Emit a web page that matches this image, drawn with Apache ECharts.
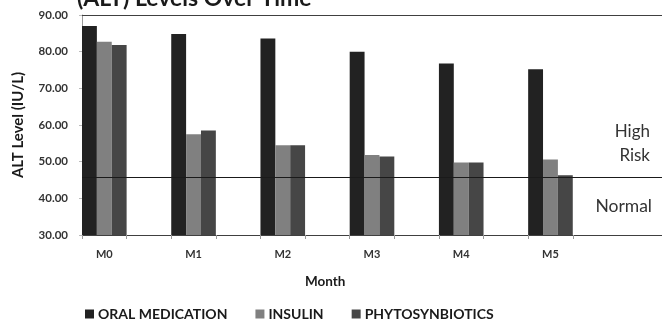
<!DOCTYPE html>
<html>
<head>
<meta charset="utf-8">
<script src="https://cdn.jsdelivr.net/npm/echarts@6/dist/echarts.min.js"></script>
<style>html,body{margin:0;padding:0;background:#fff}#c{width:662px;height:324px}</style>
</head>
<body>
<div id="c"></div>
<script>
const months = ['M0', 'M1', 'M2', 'M3', 'M4', 'M5'];
const oralMedication = [87.0, 84.8, 83.6, 80.0, 76.8, 75.2];
const insulin = [82.7, 57.5, 54.5, 51.8, 49.8, 50.6];
const phytosynbiotics = [81.8, 58.5, 54.5, 51.4, 49.8, 46.3];
const threshold = 45.7;
const yTicks = [30, 40, 50, 60, 70, 80, 90];

// each month occupies one slot of bars followed by an empty slot
const slots = [];
months.forEach(m => { slots.push(m); slots.push(''); });
slots.push('');
const spread = arr => {
  const out = [];
  arr.forEach(v => { out.push(v); out.push(null); });
  out.push(null);
  return out;
};

const FONT = 'Lato';
const chart = echarts.init(document.getElementById('c'), null, {renderer: 'canvas'});
chart.setOption({
  animation: false,
  textStyle: {fontFamily: FONT},
  title: [
    {text: '(ALT) Levels Over Time', left: 77, top: -13, padding: 0,
     textStyle: {fontFamily: FONT, fontSize: 23, fontWeight: 'bold', color: '#1a1a1a'}},
    {text: 'Month', left: 305, top: 275, padding: 0,
     textStyle: {fontFamily: FONT, fontSize: 13.5, fontWeight: 'bold', color: '#1a1a1a'}},
    {text: 'High', right: 12, top: 123, padding: 0,
     textStyle: {fontFamily: FONT, fontSize: 17, fontWeight: 'normal', color: '#333'}},
    {text: 'Risk', right: 12, top: 147, padding: 0,
     textStyle: {fontFamily: FONT, fontSize: 17, fontWeight: 'normal', color: '#333'}},
    {text: 'Normal', right: 10, top: 197, padding: 0,
     textStyle: {fontFamily: FONT, fontSize: 17.5, fontWeight: 'normal', color: '#333'}}
  ],
  legend: {
    bottom: -2, left: 80, icon: 'rect', itemWidth: 9, itemHeight: 9, itemGap: 28,
    textStyle: {fontFamily: FONT, fontSize: 14, fontWeight: 'bold', color: '#1a1a1a', padding: [0,0,0,-1]},
    data: ['ORAL MEDICATION', 'INSULIN', 'PHYTOSYNBIOTICS']
  },
  grid: {left: 82, top: 15, width: 585, bottom: 89, containLabel: false},
  xAxis: [
    {type: 'category', data: slots, boundaryGap: true,
     axisLine: {show: true, lineStyle: {color: '#404040', width: 1}},
     axisTick: {show: true, length: 4, interval: (i) => i < 12, lineStyle: {color: '#999'}},
     axisLabel: {interval: 0, margin: 14, fontFamily: FONT, fontSize: 11, fontWeight: 'bold', color: '#333'},
     splitLine: {show: false}},
    {type: 'category', data: slots, position: 'top', boundaryGap: true,
     axisLine: {show: true, lineStyle: {color: '#404040', width: 1}},
     axisTick: {show: false}, axisLabel: {show: false}, splitLine: {show: false}}
  ],
  yAxis: {
    type: 'value', min: yTicks[0], max: yTicks[yTicks.length - 1], interval: 10,
    name: 'ALT Level (IU/L)', nameLocation: 'middle', nameGap: 56, nameRotate: 90,
    nameTextStyle: {fontFamily: FONT, fontSize: 15, fontWeight: 'bold', color: '#1a1a1a'},
    axisLine: {show: true, lineStyle: {color: '#9a9a9a'}},
    axisTick: {show: true, length: 3, lineStyle: {color: '#bbb'}},
    axisLabel: {margin: 14, fontFamily: FONT, fontSize: 11.5, fontWeight: 'bold', color: '#333',
                formatter: v => v.toFixed(2)},
    splitLine: {show: false}
  },
  series: [
    {name: 'threshold', type: 'line', data: [], z: 1, silent: true,
     markLine: {silent: true, symbol: 'none', label: {show: false},
                lineStyle: {color: '#1a1a1a', width: 1, type: 'solid'},
                data: [{yAxis: threshold}]}},
    {name: 'ORAL MEDICATION', type: 'bar', data: spread(oralMedication), z: 2,
     barGap: '0%', barCategoryGap: '0%', itemStyle: {color: '#222222'}},
    {name: 'INSULIN', type: 'bar', data: spread(insulin), z: 2,
     barGap: '0%', barCategoryGap: '0%', itemStyle: {color: '#808080'}},
    {name: 'PHYTOSYNBIOTICS', type: 'bar', data: spread(phytosynbiotics), z: 2,
     barGap: '0%', barCategoryGap: '0%', itemStyle: {color: '#464646'}}
  ]
});
</script>
</body>
</html>
